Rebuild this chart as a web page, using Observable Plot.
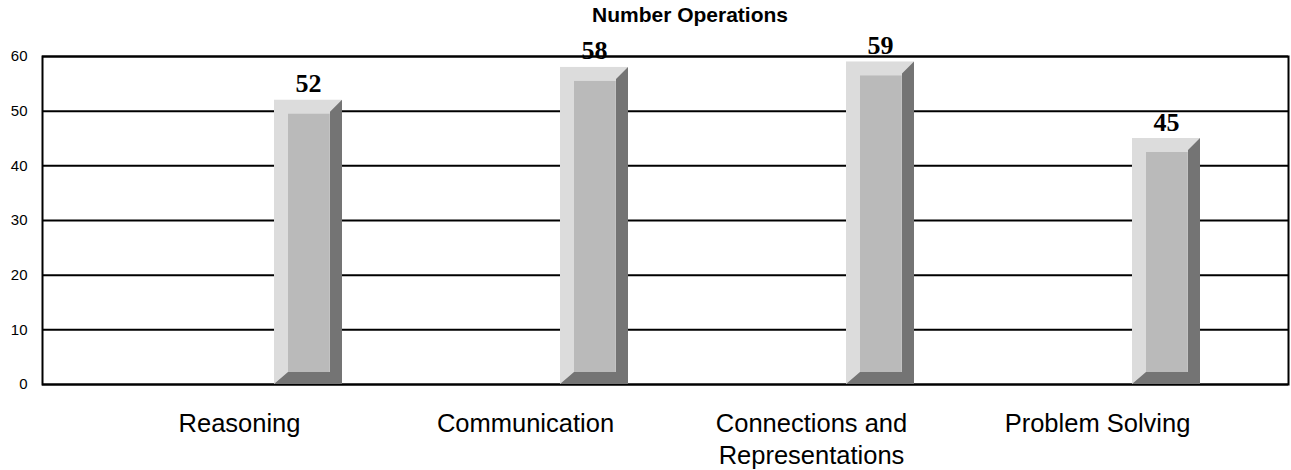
<!DOCTYPE html>
<html>
<head>
<meta charset="utf-8">
<script src="https://cdn.jsdelivr.net/npm/d3@7"></script>
<script src="https://cdn.jsdelivr.net/npm/@observablehq/plot@0.6"></script>
<style>
  body { margin: 0; background: #fff; }
  #wrap { position: relative; width: 1291px; height: 470px; }
  #title { position: absolute; z-index: 1; left: 390px; top: 3px; width: 600px; text-align: center;
           font: bold 21px "Liberation Sans", Arial, sans-serif; color: #000; }
  #wrap svg { display: block; }
</style>
</head>
<body>
<div id="wrap"><div id="title"></div></div>
<script>
// ---- data ----
const title = "Number Operations";
const categories = ["Reasoning", "Communication", "Connections and\nRepresentations", "Problem Solving"];
const values = [52, 58, 59, 45];
const yTicks = [0, 10, 20, 30, 40, 50, 60];

const data = categories.map((c, i) => ({category: c, value: values[i]}));

// ---- style / layout ----
const bandStep = (1240 - 95) / categories.length;
const barOffset = 178, barW = 68;
const bevL = 14, bevT = 14, bevR = 12, bevB = 12;
const insetR = bandStep - barOffset - barW;

function darkBevel(index, scales) {
  const g = d3.create("svg:g");
  for (const d of data) {
    const x0 = scales.x(d.category) + barOffset, x1 = x0 + barW;
    const yt = scales.y(d.value), yb = scales.y(0);
    g.append("path")
      .attr("fill", "#747474")
      .attr("d", `M${x1},${yt}L${x1},${yb}L${x0},${yb}L${x0 + bevL},${yb - bevB}L${x1 - bevR},${yb - bevB}L${x1 - bevR},${yt + bevT - 2}Z`);
  }
  return g.node();
}

document.getElementById("title").textContent = title;

const chart = Plot.plot({
  width: 1291,
  height: 470,
  marginLeft: 42,
  marginRight: 3,
  marginTop: 56,
  marginBottom: 86,
  style: {fontFamily: '"Liberation Sans", Arial, sans-serif', background: "#fff", color: "#000"},
  x: {type: "band", domain: categories, range: [95, 1240], padding: 0, label: null},
  y: {domain: [0, 60], label: null},
  marks: [
    Plot.ruleY(yTicks, {stroke: "#000", strokeWidth: 2}),
    Plot.frame({stroke: "#000", strokeWidth: 2}),
    Plot.barY(data, {x: "category", y: "value", fill: "#dcdcdc", insetLeft: barOffset, insetRight: insetR}),
    darkBevel,
    Plot.barY(data, {x: "category", y: "value", fill: "#bababa",
      insetLeft: barOffset + bevL, insetRight: insetR + bevR, insetTop: bevT, insetBottom: bevB}),
    Plot.text(data, {x: "category", y: "value", text: d => String(d.value),
      dx: barOffset + barW / 2 - bandStep / 2, dy: -8, lineAnchor: "bottom",
      fontSize: 26, fontWeight: "bold", fontFamily: '"Liberation Serif", "Times New Roman", serif', fill: "#000"}),
    Plot.axisY({ticks: yTicks, tickSize: 0, tickPadding: 15, fontSize: 15, label: null}),
    Plot.axisX({tickSize: 0, tickPadding: 24, fontSize: 25.5, lineHeight: 1.28, label: null})
  ]
});
document.getElementById("wrap").appendChild(chart);
</script>
</body>
</html>
